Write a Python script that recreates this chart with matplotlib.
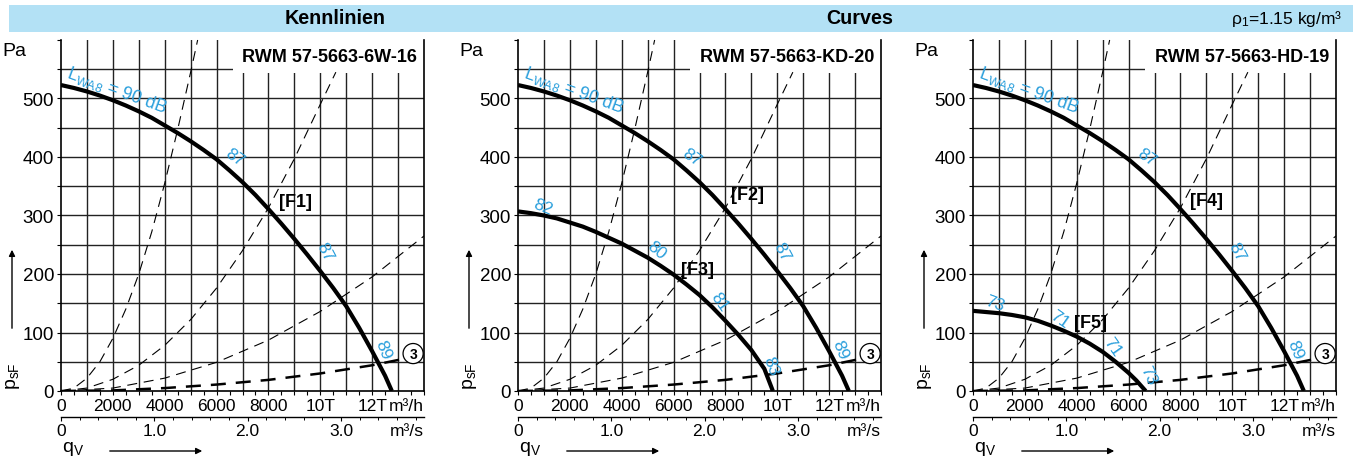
import matplotlib
matplotlib.use('Agg')
import matplotlib.pyplot as plt
from matplotlib.patches import Rectangle, FancyArrowPatch

plt.rcParams['font.family'] = ['Liberation Sans', 'DejaVu Sans']
plt.rcParams['mathtext.fontset'] = 'custom'
plt.rcParams['mathtext.rm'] = 'Liberation Sans'
plt.rcParams['mathtext.it'] = 'Liberation Sans:italic'
plt.rcParams['mathtext.bf'] = 'Liberation Sans:bold'

# ---- data (q in m3/h, p in Pa) ----
titles = ['RWM 57-5663-6W-16', 'RWM 57-5663-KD-20', 'RWM 57-5663-HD-19']

# 90 dB fan curve (same in all three panels: F1, F2, F4)
q_fan = [0, 500, 1000, 1500, 2000, 2500, 3000, 3500, 4000, 4500, 5000, 5500, 6000, 6500,
         7000, 7500, 8000, 8500, 9000, 9500, 10000, 10500, 11000, 11500, 12000, 12500, 12760]
p_fan = [523, 518, 512, 505, 497, 488, 478, 467, 454, 441, 427, 412, 396, 377,
         357, 335, 311, 286, 260, 233, 205, 176, 145, 108, 68, 26, 0]

# F3 (panel 2)
q_f3 = [0, 500, 1000, 1500, 2000, 2500, 3000, 3500, 4000, 4500, 5000, 5500, 6000, 6500,
        7000, 7500, 8000, 8500, 9000, 9500, 9830]
p_f3 = [307, 304, 300, 295, 288, 281, 272, 262, 252, 240, 228, 214, 199, 182,
        164, 143, 120, 96, 70, 38, 0]

# F5 (panel 3)
q_f5 = [0, 500, 1000, 1500, 2000, 2500, 3000, 3500, 4000, 4500, 5000, 5500, 6000, 6300, 6660]
p_f5 = [137, 135, 133, 130, 126, 120, 112, 103, 93, 81, 67, 50, 31, 18, 0]

# system curves (dashed)
q_sys_a = [0, 500, 1000, 1500, 2000, 2500, 3000, 3500, 4000, 4500, 5000, 5270]
p_sys_a = [0, 5, 22, 50, 90, 140, 200, 272, 355, 447, 545, 600]
q_sys_b = [0, 1000, 2000, 3000, 4000, 5000, 6000, 7000, 8000, 9000, 10000, 10600]
p_sys_b = [0, 5, 20, 44, 78, 122, 176, 240, 313, 397, 490, 545]
q_sys_c = [0, 2000, 4000, 6000, 8000, 10000, 12000, 14000]
p_sys_c = [0, 5, 22, 49, 87, 136, 195, 265]
q_sys_3 = [0, 2000, 4000, 6000, 8000, 10000, 12000, 13000, 14000]
p_sys_3 = [0, 1, 5, 11, 19, 30, 44, 53, 63]

x_ticks = [0, 2000, 4000, 6000, 8000, 10000, 12000]
x_labels = ['0', '2000', '4000', '6000', '8000', '10T', '12T']
y_ticks = [0, 100, 200, 300, 400, 500]
s_ticks = [0, 1, 2, 3]
s_labels = ['0', '1.0', '2.0', '3.0']

# blue sound power labels: (text, q, p, rotation)
common_labels = [('87', 6700, 401, -35), ('87', 10180, 239, -62), ('89', 12430, 71, -68)]
extra_labels = [
    [],
    [('82', 960, 316, -22), ('80', 5330, 242, -40), ('81', 7770, 154, -55), ('83', 9760, 43, -70)],
    [('73', 830, 150, -20), ('71', 3340, 124, -35), ('71', 5360, 77, -55), ('73', 6750, 27, -65)],
]
curve_names = [
    [('[F1]', 9060, 324)],
    [('[F2]', 8840, 336), ('[F3]', 6930, 208)],
    [('[F4]', 9020, 325), ('[F5]', 4520, 117)],
]

blue = '#2a9fdc'
gridc = '#222222'
W, H = 1353, 460
fig = plt.figure(figsize=(W / 100, H / 100), dpi=100)

# header band
fig.patches.append(Rectangle((9 / W, 1 - 33 / H), 1 - 9 / W, 27 / H, transform=fig.transFigure,
                             facecolor='#b3e1f5', edgecolor='none', zorder=0))
fig.text(335 / W, 1 - 19 / H, 'Kennlinien', ha='center', va='center', fontsize=14.2, fontweight='bold')
fig.text(860 / W, 1 - 19 / H, 'Curves', ha='center', va='center', fontsize=14.2, fontweight='bold')
fig.text(1342 / W, 1 - 19 / H, r'ρ$_1$=1.15 kg/m³', ha='right', va='center', fontsize=12.5)

lefts = [61, 518, 973]
for i, l in enumerate(lefts):
    ax = fig.add_axes([l / W, 1 - 392 / H, 363 / W, 351 / H])
    ax.set_xlim(0, 14000)
    ax.set_ylim(0, 600)
    for x in range(1000, 14000, 1000):
        ax.axvline(x, color=gridc, lw=1.0, zorder=1)
    for y in range(50, 600, 50):
        ax.axhline(y, color=gridc, lw=1.0, zorder=1)
    ax.add_patch(Rectangle((6650, 543), 7350, 57, facecolor='white', edgecolor='none', zorder=2))
    ax.text(13730, 571, titles[i], ha='right', va='center', fontsize=13, fontweight='bold', zorder=4)

    ax.spines['top'].set_visible(False)
    for s in ['left', 'right', 'bottom']:
        ax.spines[s].set_linewidth(1.2)
        ax.spines[s].set_zorder(5)

    # system curves
    dash = (0, (9, 6))
    ax.plot(q_sys_a, p_sys_a, color='black', lw=0.8, ls=dash, zorder=3, clip_on=False)
    ax.plot(q_sys_b, p_sys_b, color='black', lw=0.8, ls=dash, zorder=3)
    ax.plot(q_sys_c, p_sys_c, color='black', lw=0.8, ls=dash, zorder=3)
    ax.plot(q_sys_3, p_sys_3, color='black', lw=1.8, ls=(0, (6, 4)), zorder=3)
    ax.text(13580, 64, '3', ha='center', va='center', fontsize=10, fontweight='bold', zorder=7,
            bbox=dict(boxstyle='circle,pad=0.22', fc='white', ec='black', lw=0.9))

    # fan curves
    ax.plot(q_fan, p_fan, color='black', lw=3, zorder=6, solid_capstyle='butt', solid_joinstyle='round')
    if i == 1:
        ax.plot(q_f3, p_f3, color='black', lw=3, zorder=6, solid_capstyle='butt', solid_joinstyle='round')
    if i == 2:
        ax.plot(q_f5, p_f5, color='black', lw=3, zorder=6, solid_capstyle='butt', solid_joinstyle='round')

    ax.text(2150, 515, r'$\mathregular{L_{WA8}}$ = 90 dB', color=blue, fontsize=12.8, rotation=-20,
            ha='center', va='center', zorder=7)
    for t, x, y, r in common_labels + extra_labels[i]:
        ax.text(x, y, t, color=blue, fontsize=12.5, rotation=r, ha='center', va='center', zorder=7)
    for t, x, y in curve_names[i]:
        ax.text(x, y, t, fontsize=13, fontweight='bold', ha='center', va='center', zorder=7)

    ax.set_xticks(x_ticks, x_labels)
    ax.set_xticks(range(0, 14001, 500), minor=True)
    ax.set_yticks(y_ticks)
    ax.set_yticks(range(0, 601, 50), minor=True)
    ax.tick_params(which='both', length=3, width=0.8, labelsize=12.5, pad=2)
    ax.tick_params(axis='y', labelsize=13.5, pad=2)
    ax.annotate('m³/h', xy=(14000, 0), xycoords='data', xytext=(0, -5), textcoords='offset points',
                ha='right', va='top', fontsize=12.5, annotation_clip=False)

    # m3/s axis
    ax2 = fig.add_axes([l / W, 1 - 418 / H, 363 / W, 0.0001])
    ax2.set_xlim(0, 14000 / 3600)
    for s in ['left', 'right', 'top']:
        ax2.spines[s].set_visible(False)
    ax2.spines['bottom'].set_linewidth(1.0)
    ax2.set_yticks([])
    ax2.set_xticks(s_ticks, s_labels)
    ax2.set_xticks([k / 5 for k in range(0, 20)], minor=True)
    ax2.tick_params(which='major', length=3, width=0.8, labelsize=12.5, pad=1)
    ax2.tick_params(which='minor', length=2, width=0.7)
    ax2.annotate('m³/s', xy=(14000 / 3600, 0), xycoords=('data', 'axes fraction'), xytext=(0, -4),
                 textcoords='offset points', ha='right', va='top', fontsize=12.5, annotation_clip=False)

    # axis names and arrows
    fig.text((l - 47) / W, 1 - 51 / H, 'Pa', ha='center', va='center', fontsize=14)
    fig.text((l - 48) / W, 1 - 376 / H, r'$\mathregular{p_{sF}}$', rotation=90, ha='center', va='center', fontsize=14)
    fig.add_artist(FancyArrowPatch(((l - 49) / W, 1 - 332 / H), ((l - 49) / W, 1 - 248 / H),
                                   transform=fig.transFigure, arrowstyle='-|>', mutation_scale=9,
                                   lw=1, color='black'))
    fig.text((l + 12) / W, 1 - 449 / H, r'$\mathregular{q_V}$', ha='center', va='center', fontsize=14)
    fig.add_artist(FancyArrowPatch(((l + 46) / W, 1 - 452 / H), ((l + 144) / W, 1 - 452 / H),
                                   transform=fig.transFigure, arrowstyle='-|>', mutation_scale=9,
                                   lw=1, color='black'))

fig.savefig('out.png', dpi=100)
